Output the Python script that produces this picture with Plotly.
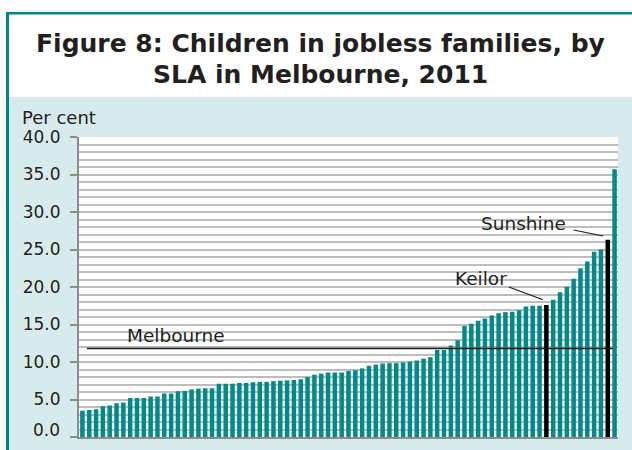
import plotly.graph_objects as go

# ---- data ----
sla_rank = list(range(1, 80))
values = [3.5, 3.6, 3.7, 4.1, 4.2, 4.5, 4.6, 5.2, 5.2, 5.2,
          5.4, 5.4, 5.8, 5.8, 6.1, 6.15, 6.35, 6.45, 6.5, 6.5,
          7.1, 7.1, 7.1, 7.2, 7.2, 7.3, 7.35, 7.35, 7.45, 7.5,
          7.55, 7.6, 7.7, 8.0, 8.3, 8.45, 8.6, 8.6, 8.6, 8.8,
          8.9, 9.15, 9.5, 9.65, 9.8, 9.85, 9.85, 9.95, 10.05, 10.2,
          10.45, 10.65, 11.6, 11.6, 12.2, 12.9, 14.8, 15.1, 15.5, 15.8,
          16.2, 16.5, 16.65, 16.7, 16.9, 17.4, 17.5, 17.5, 17.6, 18.3,
          19.3, 20.05, 21.1, 22.5, 23.4, 24.7, 25.0, 26.3, 35.7]
highlight_rank = {69: "Keilor", 78: "Sunshine"}
melbourne_avg = 11.8
y_ticks = [0, 5, 10, 15, 20, 25, 30, 35, 40]
y_tick_labels = ["0.0", "5.0", "10.0", "15.0", "20.0", "25.0", "30.0", "35.0", "40.0"]

TEAL = "#008a8a"
BORDER = "#00868a"
PANEL = "#d8ebec"
TEXT = "#231f20"
FONT = "DejaVu Sans, Liberation Sans, Arial, sans-serif"

colors = ["#000000" if r in highlight_rank else TEAL for r in sla_rank]

W, H = 632, 441
L, R, T, B = 79, 14, 137, 4
pw, ph = W - L - R, H - T - B
BASE = H - B  # pixel row of the zero line


def px(x):
    return (x - L) / pw


def py(y):
    return (BASE - y) / ph


fig = go.Figure(go.Bar(x=sla_rank, y=values, marker=dict(color=colors, line=dict(width=0)),
                       hoverinfo="x+y"))

shapes = [
    dict(type="rect", xref="paper", yref="paper", x0=px(-5), x1=px(W + 5), y0=py(97), y1=py(-5),
         fillcolor="white", line=dict(width=0), layer="below"),
    dict(type="rect", xref="paper", yref="paper", x0=px(-5), x1=px(6), y0=py(H + 10), y1=py(-5),
         fillcolor="white", line=dict(width=0), layer="below"),
    dict(type="rect", xref="paper", yref="paper", x0=px(6), x1=px(9), y0=py(H + 10), y1=py(12),
         fillcolor=BORDER, line=dict(width=0), layer="below"),
    dict(type="rect", xref="paper", yref="paper", x0=px(6), x1=px(W + 5), y0=py(14.5), y1=py(12),
         fillcolor=BORDER, line=dict(width=0), layer="below"),
    # Melbourne average line
    dict(type="line", xref="paper", yref="y", x0=px(87), x1=px(613), y0=melbourne_avg, y1=melbourne_avg,
         line=dict(color="#1a1a1a", width=1.5)),
    # leader lines
    dict(type="line", xref="x", yref="y", x0=63.5, y0=20.0, x1=68.5, y1=18.3,
         line=dict(color="#1a1a1a", width=1.2)),
    dict(type="line", xref="x", yref="y", x0=73.0, y0=27.6, x1=77.3, y1=26.8,
         line=dict(color="#1a1a1a", width=1.2)),
]

annotations = [
    dict(text="<b>Figure 8: Children in jobless families, by</b>", xref="paper", yref="paper",
         x=px(320), y=py(44), xanchor="center", yanchor="middle", showarrow=False,
         font=dict(size=25, color=TEXT, family=FONT)),
    dict(text="<b>SLA in Melbourne, 2011</b>", xref="paper", yref="paper",
         x=px(320), y=py(75), xanchor="center", yanchor="middle", showarrow=False,
         font=dict(size=25, color=TEXT, family=FONT)),
    dict(text="Per cent", xref="paper", yref="paper", x=px(20), y=py(117),
         xanchor="left", yanchor="middle", showarrow=False,
         font=dict(size=18, color=TEXT, family=FONT)),
    dict(text="Melbourne", xref="x", yref="y", x=14.7, y=13.5, xanchor="center", yanchor="middle",
         showarrow=False, font=dict(size=18.5, color=TEXT, family=FONT)),
    dict(text="Keilor", xref="x", yref="y", x=59.4, y=21.2, xanchor="center", yanchor="middle",
         showarrow=False, font=dict(size=18.5, color=TEXT, family=FONT)),
    dict(text="Sunshine", xref="x", yref="y", x=65.6, y=28.5, xanchor="center", yanchor="middle",
         showarrow=False, font=dict(size=18.5, color=TEXT, family=FONT)),
    # bottom tick label drawn as text, kept inside the figure's lower edge
    dict(text=y_tick_labels[0], xref="paper", yref="paper", x=px(61), y=py(H),
         xanchor="right", yanchor="bottom", showarrow=False, borderpad=0,
         font=dict(size=17, color=TEXT, family=FONT)),
]

fig.update_layout(
    width=W, height=H, autosize=False,
    margin=dict(l=L, r=R, t=T, b=B, pad=0),
    paper_bgcolor=PANEL, plot_bgcolor="white",
    bargap=0.34, showlegend=False,
    shapes=shapes, annotations=annotations,
    font=dict(family=FONT, color=TEXT, size=17),
    xaxis=dict(range=[0.5, 79.5], showticklabels=False, ticks="", showgrid=False, zeroline=False,
               showline=True, linecolor="#8c8c8c", linewidth=2, fixedrange=True),
    yaxis=dict(range=[0, 40], tickvals=y_ticks, ticktext=[""] + y_tick_labels[1:], ticks="outside",
               ticklen=7, tickcolor="#8c8c8c", tickwidth=1.5, ticklabelstandoff=6,
               showgrid=True, gridcolor="#bdbdbd", gridwidth=1.5, zeroline=False,
               showline=True, linecolor="#8c8c8c", linewidth=2,
               tickfont=dict(size=17, color=TEXT, family=FONT),
               minor=dict(dtick=1, showgrid=True, gridcolor="#bdbdbd", gridwidth=1.5, ticks=""),
               fixedrange=True),
)

page_bg = ("linear-gradient(to right, #ffffff 0px, #ffffff 6px, " + BORDER + " 6px, " + BORDER
           + " 9px, " + PANEL + " 9px, " + PANEL + " 100%)")
post = ("document.documentElement.style.margin='0px';document.body.style.margin='0px';"
        "document.body.style.overflow='hidden';"
        "document.documentElement.style.background='" + page_bg + "';"
        "document.body.style.background='" + page_bg + "';")

fig.write_html("out.html", config={"displayModeBar": False, "responsive": False}, post_script=post)
